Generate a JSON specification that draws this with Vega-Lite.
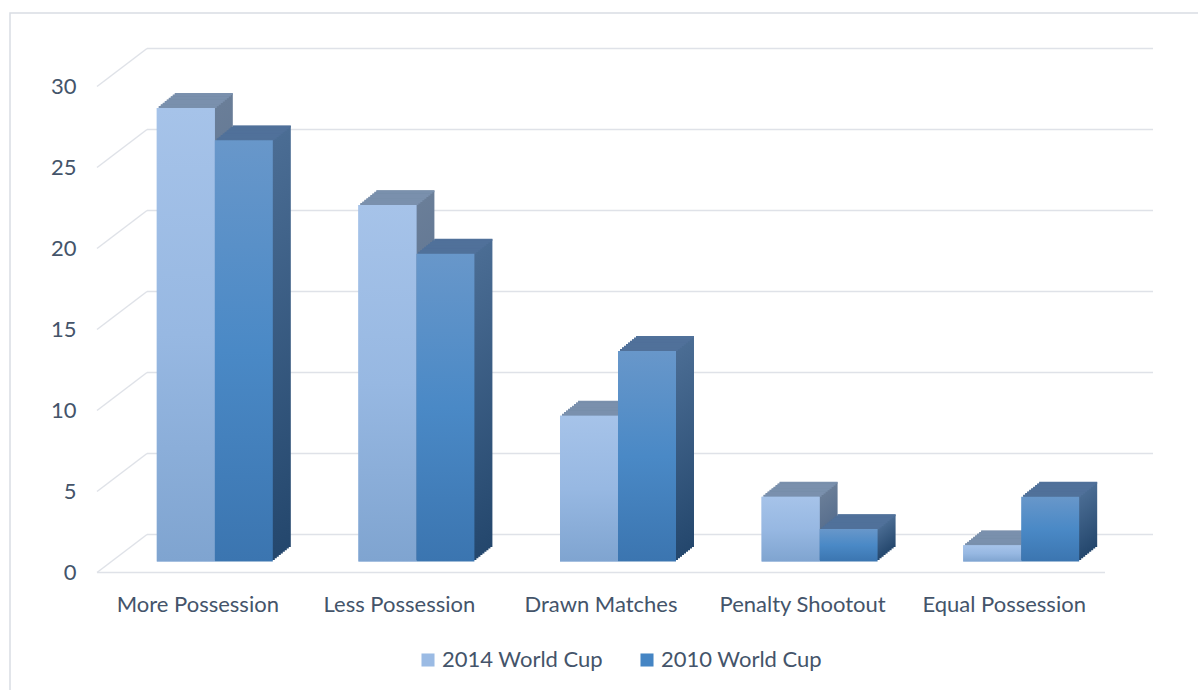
{
  "$schema": "https://vega.github.io/schema/vega-lite/v6.json",
  "width": 1200,
  "height": 690,
  "autosize": {"type": "none"},
  "padding": {"left": 10, "top": 13, "right": 0, "bottom": 0},
  "background": "white",
  "config": {
    "view": {"stroke": "#d9dde4", "strokeWidth": 1.5},
    "font": "Lato"
  },
  "datasets": {
    "bars": [
      {"category": "More Possession", "series": "2014 World Cup", "value": 28},
      {"category": "More Possession", "series": "2010 World Cup", "value": 26},
      {"category": "Less Possession", "series": "2014 World Cup", "value": 22},
      {"category": "Less Possession", "series": "2010 World Cup", "value": 19},
      {"category": "Drawn Matches", "series": "2014 World Cup", "value": 9},
      {"category": "Drawn Matches", "series": "2010 World Cup", "value": 13},
      {"category": "Penalty Shootout", "series": "2014 World Cup", "value": 4},
      {"category": "Penalty Shootout", "series": "2010 World Cup", "value": 2},
      {"category": "Equal Possession", "series": "2014 World Cup", "value": 1},
      {"category": "Equal Possession", "series": "2010 World Cup", "value": 4}
    ],
    "grid": [{"value": 0}, {"value": 5}, {"value": 10}, {"value": 15}, {"value": 20}, {"value": 25}, {"value": 30}]
  },
  "layer": [
    {
      "data": {"name": "grid"},
      "mark": {"type": "rule", "color": "#dfe2e8", "strokeWidth": 1.5, "y2Offset": -38},
      "encoding": {
        "x": {"value": 87},
        "x2": {"value": 137},
        "y": {"field": "value", "type": "quantitative"},
        "y2": {"field": "value"}
      }
    },
    {
      "data": {"name": "grid"},
      "mark": {"type": "rule", "color": "#dfe2e8", "strokeWidth": 1.5, "yOffset": -38},
      "encoding": {
        "x": {"value": 137},
        "x2": {"value": 1143},
        "y": {"field": "value", "type": "quantitative"}
      }
    },
    {
      "data": {"name": "grid"},
      "transform": [{"filter": "datum.value === 0"}],
      "mark": {"type": "rule", "color": "#dfe2e8", "strokeWidth": 1.5},
      "encoding": {
        "x": {"value": 87},
        "x2": {"value": 1095},
        "y": {"field": "value", "type": "quantitative"}
      }
    },
    {
      "data": {"name": "bars"},
      "encoding": {
        "x": {
          "field": "category", "type": "nominal", "sort": null,
          "scale": {"domain": ["More Possession", "Less Possession", "Drawn Matches", "Penalty Shootout", "Equal Possession"], "range": [87, 1095], "paddingInner": 0.7123, "paddingOuter": 0.3562},
          "axis": {"title": null, "orient": "bottom", "offset": -92, "ticks": false, "domain": false, "grid": false, "labelPadding": 0, "labelBaseline": "alphabetic", "labelAngle": 0, "labelFont": "Lato", "labelFontSize": 22, "labelColor": "#44546a", "labelOverlap": false}
        },
        "y": {
          "field": "value", "type": "quantitative",
          "scale": {"domain": [0, 30], "range": [559.5, 73.5], "nice": false},
          "axis": {"title": null, "orient": "left", "offset": -70, "ticks": false, "domain": false, "grid": false, "labelPadding": 4, "values": [0, 5, 10, 15, 20, 25, 30], "labelFont": "Lato", "labelFontSize": 22, "labelColor": "#44546a"}
        }
      },
      "layer": [
        {"transform": [{"filter": "datum.series === '2014 World Cup'"}], "mark": {"type": "bar", "color": {"gradient": "linear", "x1": 0, "y1": 0, "x2": 0, "y2": 1, "stops": [{"offset": 0, "color": "#6a7e98"}, {"offset": 1, "color": "#4a6386"}]}, "xOffset": 6, "yOffset": -25.5, "y2Offset": -25.5}},
        {"transform": [{"filter": "datum.series === '2014 World Cup'"}], "mark": {"type": "bar", "color": {"gradient": "linear", "x1": 0, "y1": 0, "x2": 0, "y2": 1, "stops": [{"offset": 0, "color": "#6a7e98"}, {"offset": 1, "color": "#4a6386"}]}, "xOffset": 4, "yOffset": -23.89, "y2Offset": -23.89}},
        {"transform": [{"filter": "datum.series === '2014 World Cup'"}], "mark": {"type": "bar", "color": {"gradient": "linear", "x1": 0, "y1": 0, "x2": 0, "y2": 1, "stops": [{"offset": 0, "color": "#6a7e98"}, {"offset": 1, "color": "#4a6386"}]}, "xOffset": 2, "yOffset": -22.28, "y2Offset": -22.28}},
        {"transform": [{"filter": "datum.series === '2014 World Cup'"}], "mark": {"type": "bar", "color": {"gradient": "linear", "x1": 0, "y1": 0, "x2": 0, "y2": 1, "stops": [{"offset": 0, "color": "#6a7e98"}, {"offset": 1, "color": "#4a6386"}]}, "xOffset": 0.01, "yOffset": -20.67, "y2Offset": -20.67}},
        {"transform": [{"filter": "datum.series === '2014 World Cup'"}], "mark": {"type": "bar", "color": {"gradient": "linear", "x1": 0, "y1": 0, "x2": 0, "y2": 1, "stops": [{"offset": 0, "color": "#6a7e98"}, {"offset": 1, "color": "#4a6386"}]}, "xOffset": -2, "yOffset": -19.06, "y2Offset": -19.06}},
        {"transform": [{"filter": "datum.series === '2014 World Cup'"}], "mark": {"type": "bar", "color": {"gradient": "linear", "x1": 0, "y1": 0, "x2": 0, "y2": 1, "stops": [{"offset": 0, "color": "#6a7e98"}, {"offset": 1, "color": "#4a6386"}]}, "xOffset": -4, "yOffset": -17.44, "y2Offset": -17.44}},
        {"transform": [{"filter": "datum.series === '2014 World Cup'"}], "mark": {"type": "bar", "color": {"gradient": "linear", "x1": 0, "y1": 0, "x2": 0, "y2": 1, "stops": [{"offset": 0, "color": "#6a7e98"}, {"offset": 1, "color": "#4a6386"}]}, "xOffset": -6, "yOffset": -15.83, "y2Offset": -15.83}},
        {"transform": [{"filter": "datum.series === '2014 World Cup'"}], "mark": {"type": "bar", "color": {"gradient": "linear", "x1": 0, "y1": 0, "x2": 0, "y2": 1, "stops": [{"offset": 0, "color": "#6a7e98"}, {"offset": 1, "color": "#4a6386"}]}, "xOffset": -8, "yOffset": -14.22, "y2Offset": -14.22}},
        {"transform": [{"filter": "datum.series === '2014 World Cup'"}], "mark": {"type": "bar", "color": {"gradient": "linear", "x1": 0, "y1": 0, "x2": 0, "y2": 1, "stops": [{"offset": 0, "color": "#6a7e98"}, {"offset": 1, "color": "#4a6386"}]}, "xOffset": -10, "yOffset": -12.61, "y2Offset": -12.61}},

        {"transform": [{"filter": "datum.series === '2010 World Cup'"}], "mark": {"type": "bar", "color": {"gradient": "linear", "x1": 0, "y1": 0, "x2": 0, "y2": 1, "stops": [{"offset": 0, "color": "#4b6d94"}, {"offset": 1, "color": "#24476d"}]}, "xOffset": 64, "yOffset": -25.5, "y2Offset": -25.5}},
        {"transform": [{"filter": "datum.series === '2010 World Cup'"}], "mark": {"type": "bar", "color": {"gradient": "linear", "x1": 0, "y1": 0, "x2": 0, "y2": 1, "stops": [{"offset": 0, "color": "#4b6d94"}, {"offset": 1, "color": "#24476d"}]}, "xOffset": 62, "yOffset": -23.89, "y2Offset": -23.89}},
        {"transform": [{"filter": "datum.series === '2010 World Cup'"}], "mark": {"type": "bar", "color": {"gradient": "linear", "x1": 0, "y1": 0, "x2": 0, "y2": 1, "stops": [{"offset": 0, "color": "#4b6d94"}, {"offset": 1, "color": "#24476d"}]}, "xOffset": 60, "yOffset": -22.28, "y2Offset": -22.28}},
        {"transform": [{"filter": "datum.series === '2010 World Cup'"}], "mark": {"type": "bar", "color": {"gradient": "linear", "x1": 0, "y1": 0, "x2": 0, "y2": 1, "stops": [{"offset": 0, "color": "#4b6d94"}, {"offset": 1, "color": "#24476d"}]}, "xOffset": 58, "yOffset": -20.67, "y2Offset": -20.67}},
        {"transform": [{"filter": "datum.series === '2010 World Cup'"}], "mark": {"type": "bar", "color": {"gradient": "linear", "x1": 0, "y1": 0, "x2": 0, "y2": 1, "stops": [{"offset": 0, "color": "#4b6d94"}, {"offset": 1, "color": "#24476d"}]}, "xOffset": 56, "yOffset": -19.06, "y2Offset": -19.06}},
        {"transform": [{"filter": "datum.series === '2010 World Cup'"}], "mark": {"type": "bar", "color": {"gradient": "linear", "x1": 0, "y1": 0, "x2": 0, "y2": 1, "stops": [{"offset": 0, "color": "#4b6d94"}, {"offset": 1, "color": "#24476d"}]}, "xOffset": 54, "yOffset": -17.44, "y2Offset": -17.44}},
        {"transform": [{"filter": "datum.series === '2010 World Cup'"}], "mark": {"type": "bar", "color": {"gradient": "linear", "x1": 0, "y1": 0, "x2": 0, "y2": 1, "stops": [{"offset": 0, "color": "#4b6d94"}, {"offset": 1, "color": "#24476d"}]}, "xOffset": 52, "yOffset": -15.83, "y2Offset": -15.83}},
        {"transform": [{"filter": "datum.series === '2010 World Cup'"}], "mark": {"type": "bar", "color": {"gradient": "linear", "x1": 0, "y1": 0, "x2": 0, "y2": 1, "stops": [{"offset": 0, "color": "#4b6d94"}, {"offset": 1, "color": "#24476d"}]}, "xOffset": 50, "yOffset": -14.22, "y2Offset": -14.22}},
        {"transform": [{"filter": "datum.series === '2010 World Cup'"}], "mark": {"type": "bar", "color": {"gradient": "linear", "x1": 0, "y1": 0, "x2": 0, "y2": 1, "stops": [{"offset": 0, "color": "#4b6d94"}, {"offset": 1, "color": "#24476d"}]}, "xOffset": 48, "yOffset": -12.61, "y2Offset": -12.61}},

        {"transform": [{"filter": "datum.series === '2014 World Cup'"}], "mark": {"type": "bar", "color": "#7a90ad", "xOffset": -10, "yOffset": -13.01, "y2Offset": -11}, "encoding": {"y2": {"field": "value"}}},
        {"transform": [{"filter": "datum.series === '2014 World Cup'"}], "mark": {"type": "bar", "color": "#7a90ad", "xOffset": -8, "yOffset": -14.62, "y2Offset": -12.61}, "encoding": {"y2": {"field": "value"}}},
        {"transform": [{"filter": "datum.series === '2014 World Cup'"}], "mark": {"type": "bar", "color": "#7a90ad", "xOffset": -6, "yOffset": -16.23, "y2Offset": -14.22}, "encoding": {"y2": {"field": "value"}}},
        {"transform": [{"filter": "datum.series === '2014 World Cup'"}], "mark": {"type": "bar", "color": "#7a90ad", "xOffset": -4, "yOffset": -17.84, "y2Offset": -15.83}, "encoding": {"y2": {"field": "value"}}},
        {"transform": [{"filter": "datum.series === '2014 World Cup'"}], "mark": {"type": "bar", "color": "#7a90ad", "xOffset": -2, "yOffset": -19.46, "y2Offset": -17.44}, "encoding": {"y2": {"field": "value"}}},
        {"transform": [{"filter": "datum.series === '2014 World Cup'"}], "mark": {"type": "bar", "color": "#7a90ad", "xOffset": 0.01, "yOffset": -21.07, "y2Offset": -19.06}, "encoding": {"y2": {"field": "value"}}},
        {"transform": [{"filter": "datum.series === '2014 World Cup'"}], "mark": {"type": "bar", "color": "#7a90ad", "xOffset": 2, "yOffset": -22.68, "y2Offset": -20.67}, "encoding": {"y2": {"field": "value"}}},
        {"transform": [{"filter": "datum.series === '2014 World Cup'"}], "mark": {"type": "bar", "color": "#7a90ad", "xOffset": 4, "yOffset": -24.29, "y2Offset": -22.28}, "encoding": {"y2": {"field": "value"}}},
        {"transform": [{"filter": "datum.series === '2014 World Cup'"}], "mark": {"type": "bar", "color": "#7a90ad", "xOffset": 6, "yOffset": -25.9, "y2Offset": -23.89}, "encoding": {"y2": {"field": "value"}}},

        {"transform": [{"filter": "datum.series === '2010 World Cup'"}], "mark": {"type": "bar", "color": "#50719a", "xOffset": 48, "yOffset": -13.01, "y2Offset": -11}, "encoding": {"y2": {"field": "value"}}},
        {"transform": [{"filter": "datum.series === '2010 World Cup'"}], "mark": {"type": "bar", "color": "#50719a", "xOffset": 50, "yOffset": -14.62, "y2Offset": -12.61}, "encoding": {"y2": {"field": "value"}}},
        {"transform": [{"filter": "datum.series === '2010 World Cup'"}], "mark": {"type": "bar", "color": "#50719a", "xOffset": 52, "yOffset": -16.23, "y2Offset": -14.22}, "encoding": {"y2": {"field": "value"}}},
        {"transform": [{"filter": "datum.series === '2010 World Cup'"}], "mark": {"type": "bar", "color": "#50719a", "xOffset": 54, "yOffset": -17.84, "y2Offset": -15.83}, "encoding": {"y2": {"field": "value"}}},
        {"transform": [{"filter": "datum.series === '2010 World Cup'"}], "mark": {"type": "bar", "color": "#50719a", "xOffset": 56, "yOffset": -19.46, "y2Offset": -17.44}, "encoding": {"y2": {"field": "value"}}},
        {"transform": [{"filter": "datum.series === '2010 World Cup'"}], "mark": {"type": "bar", "color": "#50719a", "xOffset": 58, "yOffset": -21.07, "y2Offset": -19.06}, "encoding": {"y2": {"field": "value"}}},
        {"transform": [{"filter": "datum.series === '2010 World Cup'"}], "mark": {"type": "bar", "color": "#50719a", "xOffset": 60, "yOffset": -22.68, "y2Offset": -20.67}, "encoding": {"y2": {"field": "value"}}},
        {"transform": [{"filter": "datum.series === '2010 World Cup'"}], "mark": {"type": "bar", "color": "#50719a", "xOffset": 62, "yOffset": -24.29, "y2Offset": -22.28}, "encoding": {"y2": {"field": "value"}}},
        {"transform": [{"filter": "datum.series === '2010 World Cup'"}], "mark": {"type": "bar", "color": "#50719a", "xOffset": 64, "yOffset": -25.9, "y2Offset": -23.89}, "encoding": {"y2": {"field": "value"}}},

        {
          "transform": [{"filter": "datum.series === '2014 World Cup'"}],
          "mark": {"type": "bar", "xOffset": -12, "yOffset": -11, "y2Offset": -11},
          "encoding": {
            "color": {
              "field": "series", "type": "nominal",
              "scale": {"domain": ["2014 World Cup", "2010 World Cup"], "range": ["#9bbbe4", "#4585c4"]},
              "legend": {"title": null, "orient": "none", "legendX": 407, "legendY": 636, "direction": "horizontal", "symbolType": "square", "symbolSize": 170, "symbolStrokeWidth": 0, "labelFont": "Lato", "labelFontSize": 22, "labelColor": "#44546a", "labelOffset": 3, "labelLimit": 0, "columnPadding": 33, "padding": 0}
            }
          }
        },
        {"transform": [{"filter": "datum.series === '2014 World Cup'"}], "mark": {"type": "bar", "color": {"gradient": "linear", "x1": 0, "y1": 0, "x2": 0, "y2": 1, "stops": [{"offset": 0, "color": "#a6c3e9"}, {"offset": 0.5, "color": "#97b8e2"}, {"offset": 1, "color": "#7fa4d0"}]}, "xOffset": -12, "yOffset": -11, "y2Offset": -11}},
        {"transform": [{"filter": "datum.series === '2010 World Cup'"}], "mark": {"type": "bar", "color": {"gradient": "linear", "x1": 0, "y1": 0, "x2": 0, "y2": 1, "stops": [{"offset": 0, "color": "#6897ca"}, {"offset": 0.5, "color": "#4a89c6"}, {"offset": 1, "color": "#3b75b0"}]}, "xOffset": 46, "yOffset": -11, "y2Offset": -11}}
      ]
    }
  ]
}
